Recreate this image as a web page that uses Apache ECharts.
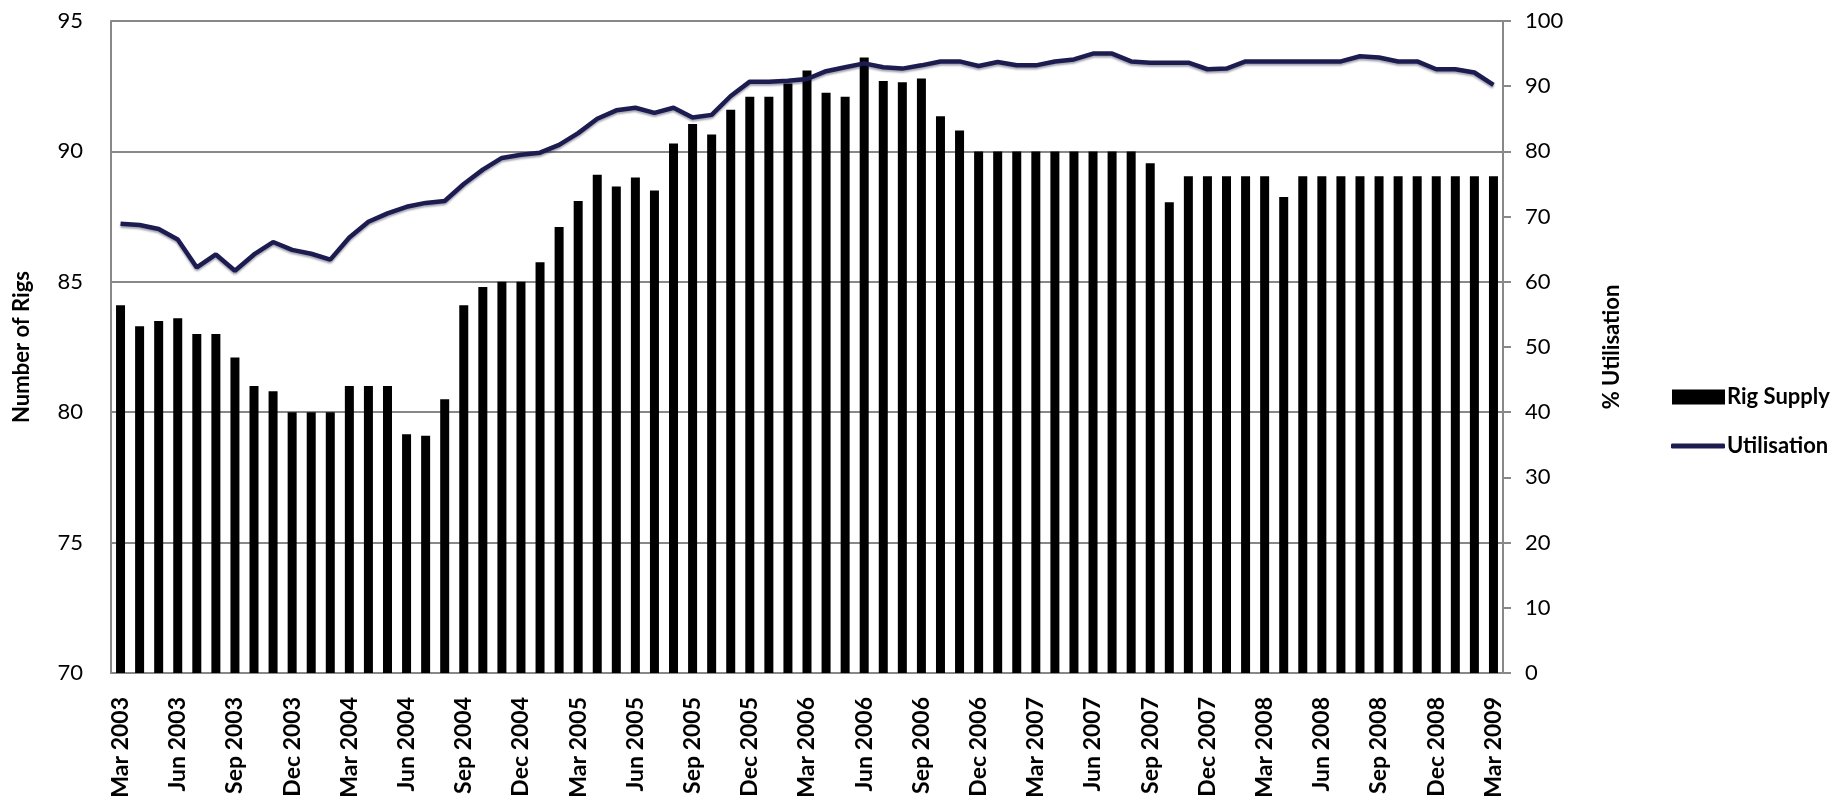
<!DOCTYPE html>
<html>
<head>
<meta charset="utf-8">
<script src="https://cdn.jsdelivr.net/npm/echarts@6/dist/echarts.min.js"></script>
<style>
html,body{margin:0;padding:0;background:#fff;}
#chart{width:1841px;height:806px;}
</style>
</head>
<body>
<div id="chart"></div>
<script>
const months = [
 'Mar 2003','Apr 2003','May 2003','Jun 2003','Jul 2003','Aug 2003','Sep 2003','Oct 2003','Nov 2003','Dec 2003',
 'Jan 2004','Feb 2004','Mar 2004','Apr 2004','May 2004','Jun 2004','Jul 2004','Aug 2004','Sep 2004','Oct 2004','Nov 2004','Dec 2004',
 'Jan 2005','Feb 2005','Mar 2005','Apr 2005','May 2005','Jun 2005','Jul 2005','Aug 2005','Sep 2005','Oct 2005','Nov 2005','Dec 2005',
 'Jan 2006','Feb 2006','Mar 2006','Apr 2006','May 2006','Jun 2006','Jul 2006','Aug 2006','Sep 2006','Oct 2006','Nov 2006','Dec 2006',
 'Jan 2007','Feb 2007','Mar 2007','Apr 2007','May 2007','Jun 2007','Jul 2007','Aug 2007','Sep 2007','Oct 2007','Nov 2007','Dec 2007',
 'Jan 2008','Feb 2008','Mar 2008','Apr 2008','May 2008','Jun 2008','Jul 2008','Aug 2008','Sep 2008','Oct 2008','Nov 2008','Dec 2008',
 'Jan 2009','Feb 2009','Mar 2009'
];

const rigSupply = [
 84.1, 83.3, 83.5, 83.6, 83.0, 83.0, 82.1, 81.0, 80.8, 80.0,
 80.0, 80.0, 81.0, 81.0, 81.0, 79.15, 79.1, 80.5, 84.1, 84.8, 85.0, 85.0,
 85.75, 87.1, 88.1, 89.1, 88.65, 89.0, 88.5, 90.3, 91.05, 90.65, 91.6, 92.1,
 92.1, 92.6, 93.1, 92.25, 92.1, 93.6, 92.7, 92.65, 92.8, 91.35, 90.8, 90.0,
 90.0, 90.0, 90.0, 90.0, 90.0, 90.0, 90.0, 90.0, 89.55, 88.05, 89.05, 89.05,
 89.05, 89.05, 89.05, 88.25, 89.05, 89.05, 89.05, 89.05, 89.05, 89.05, 89.05, 89.05,
 89.05, 89.05, 89.05
];

const utilisation = [
 68.9, 68.7, 68.1, 66.5, 62.2, 64.2, 61.7, 64.2, 66.1, 64.9,
 64.3, 63.4, 66.8, 69.2, 70.5, 71.5, 72.1, 72.4, 75.0, 77.2, 79.0, 79.5,
 79.8, 81.0, 82.8, 85.0, 86.3, 86.7, 85.9, 86.7, 85.2, 85.6, 88.5, 90.7,
 90.7, 90.85, 91.1, 92.3, 92.9, 93.5, 92.9, 92.7, 93.2, 93.8, 93.8, 93.1,
 93.7, 93.2, 93.2, 93.8, 94.1, 95.0, 95.0, 93.8, 93.6, 93.6, 93.6, 92.6,
 92.7, 93.8, 93.8, 93.8, 93.8, 93.8, 93.8, 94.6, 94.4, 93.8, 93.8, 92.6,
 92.6, 92.1, 90.2
];

const leftTicks = {min: 70, max: 95, interval: 5};
const rightTicks = {min: 0, max: 100, interval: 10};

const FONT = 'Lato';
const LINE_COLOR = '#1c1c50';
const chart = echarts.init(document.getElementById('chart'), null, {renderer: 'canvas'});
const legendText = {fontFamily: FONT, fontSize: 22, fontWeight: 'bold', color: '#000', padding: [0,0,0,-3]};
chart.setOption({
  animation: false,
  backgroundColor: '#ffffff',
  textStyle: {fontFamily: FONT},
  grid: {left: 111, right: 338, top: 21, bottom: 133, containLabel: false},
  legend: [
    {
      orient: 'vertical', left: 1667, top: 381,
      itemWidth: 53, itemHeight: 15,
      textStyle: legendText,
      data: [{name: 'Rig Supply', icon: 'rect'}]
    },
    {
      orient: 'vertical', left: 1666, top: 430,
      itemWidth: 54, itemHeight: 5,
      textStyle: legendText,
      data: [{name: 'Utilisation', icon: 'roundRect', itemStyle: {color: LINE_COLOR}}]
    }
  ],
  xAxis: {
    type: 'category',
    data: months,
    boundaryGap: true,
    axisLine: {show: true, lineStyle: {color: '#888', width: 2}},
    axisTick: {show: false},
    axisLabel: {
      interval: 2,
      rotate: 90,
      margin: 24,
      fontFamily: FONT,
      fontSize: 23,
      fontWeight: 'bold',
      color: '#000'
    },
    splitLine: {show: false}
  },
  yAxis: [
    {
      type: 'value',
      min: leftTicks.min, max: leftTicks.max, interval: leftTicks.interval,
      name: 'Number of Rigs',
      nameLocation: 'middle',
      nameRotate: 90,
      nameGap: 78,
      nameTextStyle: {fontFamily: FONT, fontSize: 22, fontWeight: 'bold', color: '#000'},
      axisLine: {show: true, lineStyle: {color: '#888', width: 2}},
      axisTick: {show: false},
      axisLabel: {margin: 28, fontFamily: FONT, fontSize: 22, color: '#000'},
      splitLine: {show: true, lineStyle: {color: '#888', width: 2}}
    },
    {
      type: 'value',
      position: 'right',
      min: rightTicks.min, max: rightTicks.max, interval: rightTicks.interval,
      name: '% Utilisation',
      nameLocation: 'middle',
      nameRotate: 90,
      nameGap: 98,
      nameTextStyle: {fontFamily: FONT, fontSize: 22, fontWeight: 'bold', color: '#000'},
      axisLine: {show: true, lineStyle: {color: '#888', width: 2}},
      axisTick: {show: true, inside: false, length: 8, lineStyle: {color: '#888', width: 2}},
      axisLabel: {margin: 22, fontFamily: FONT, fontSize: 22, color: '#000'},
      splitLine: {show: false}
    }
  ],
  series: [
    {
      name: 'Rig Supply',
      type: 'bar',
      yAxisIndex: 0,
      data: rigSupply,
      barWidth: 9,
      clip: true,
      itemStyle: {color: '#000000'}
    },
    {
      name: 'Utilisation',
      type: 'line',
      yAxisIndex: 1,
      data: utilisation,
      symbol: 'none',
      smooth: false,
      itemStyle: {color: LINE_COLOR},
      lineStyle: {color: LINE_COLOR, width: 4.5, shadowColor: 'rgba(0,0,40,0.35)', shadowBlur: 2, shadowOffsetY: 2}
    }
  ]
});
</script>
</body>
</html>
